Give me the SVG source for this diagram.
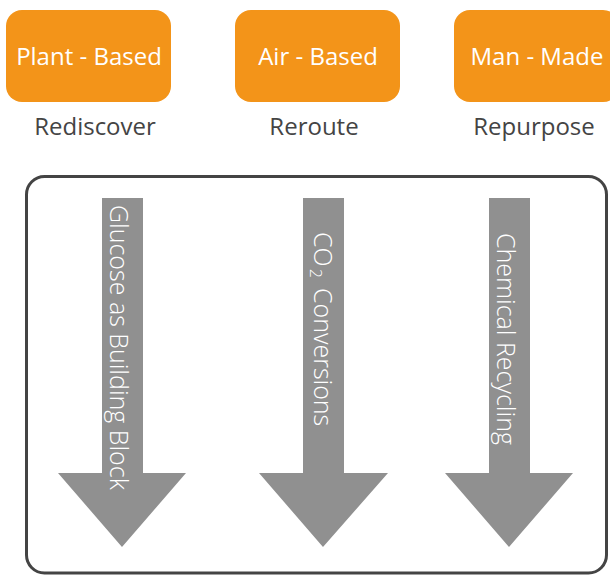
<svg xmlns="http://www.w3.org/2000/svg" width="610" height="576" viewBox="0 0 610 576">
<style>
.box{fill:#F39419;}
.bt{font-family:"Open Sans","Liberation Sans",sans-serif;font-size:24px;fill:#ffffff;text-anchor:middle;}
.lb{font-family:"Open Sans","Liberation Sans",sans-serif;font-size:24px;fill:#444444;text-anchor:middle;}
.arr{fill:#909090;}
.at{font-family:"Open Sans","Liberation Sans",sans-serif;font-size:25px;font-weight:300;fill:#ffffff;}
</style>
<rect width="610" height="576" fill="#ffffff"/>
<g id="plant">
<rect class="box" x="6" y="10" width="165" height="92" rx="16"/>
<text class="bt" x="89" y="65">Plant - Based</text>
<text class="lb" x="95" y="135">Rediscover</text>
</g>
<g id="air">
<rect class="box" x="235" y="10" width="165" height="92" rx="16"/>
<text class="bt" x="318" y="65">Air - Based</text>
<text class="lb" x="314" y="135">Reroute</text>
</g>
<g id="man">
<rect class="box" x="454" y="10" width="165" height="92" rx="16"/>
<text class="bt" x="537" y="65">Man - Made</text>
<text class="lb" x="534" y="135">Repurpose</text>
</g>
<g id="container">
<rect x="26.5" y="176.5" width="580" height="396.5" rx="18" fill="none" stroke="#444444" stroke-width="3"/>
</g>
<g id="connectors">
<g id="arrow1">
<polygon class="arr" points="102,198 143,198 143,473 186,473 122,547 58,473 102,473"/>
<text class="at" transform="translate(110,205) rotate(90)">Glucose as Building Block</text>
</g>
<g id="arrow2">
<polygon class="arr" points="303,198 344,198 344,473 388,473 323,547 259,473 303,473"/>
<text class="at" transform="translate(314,232) rotate(90)">CO<tspan font-size="16" dx="2" dy="4">2</tspan><tspan x="56" y="0">Conversions</tspan></text>
</g>
<g id="arrow3">
<polygon class="arr" points="489,198 530,198 530,473 573,473 509,547 445,473 489,473"/>
<text class="at" transform="translate(497,233) rotate(90)">Chemical Recycling</text>
</g>
</g>
</svg>
